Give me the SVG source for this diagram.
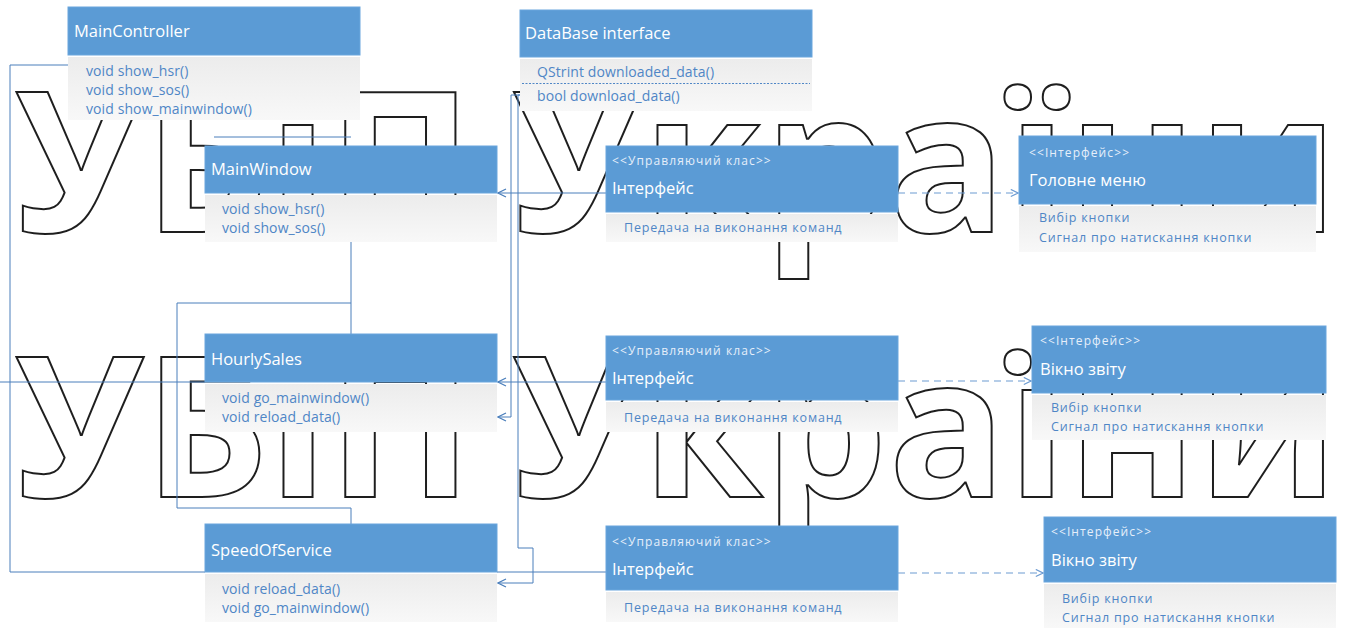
<svg xmlns="http://www.w3.org/2000/svg" width="1346" height="628" viewBox="0 0 1346 628">
<defs>
<style>
.wm{font-family:"Open Sans","DejaVu Sans",sans-serif;font-weight:700;font-size:195px;fill:none;stroke:#1e1e1e;stroke-width:2}
.ls{letter-spacing:1px}
.hdr{fill:#5b9bd5;stroke:#6aa6dd;stroke-width:1}
.body{fill:url(#bg)}
.t{font-family:"Open Sans","Noto Sans",sans-serif;fill:#ffffff}
.ttl{font-size:16.5px}
.st{font-size:12px;letter-spacing:1.1px;fill:#e6effa}
.m{font-family:"Open Sans","Noto Sans",sans-serif;font-size:14px;letter-spacing:0.1px;fill:#4f86c6}
.ms{font-size:12.5px;letter-spacing:0.8px}
.c{fill:none;stroke:#4a7ebb;stroke-width:1}
.d{fill:none;stroke:#6c9bd2;stroke-width:1.2;stroke-dasharray:7 5}
</style>
<linearGradient id="bg" x1="0" y1="0" x2="0" y2="1">
<stop offset="0" stop-color="#ececec"/>
<stop offset="1" stop-color="#f8f8f8"/>
</linearGradient>
<marker id="ao" viewBox="0 0 10 10" refX="9" refY="5" markerWidth="9" markerHeight="9" orient="auto" markerUnits="userSpaceOnUse">
<path d="M1,1 L9,5 L1,9" fill="none" stroke="#6c9bd2" stroke-width="1.3"/>
</marker>
<marker id="as" viewBox="0 0 10 10" refX="9" refY="5" markerWidth="10" markerHeight="10" orient="auto" markerUnits="userSpaceOnUse">
<path d="M1,1 L9,5 L1,9" fill="none" stroke="#4a7ebb" stroke-width="1.2"/>
</marker>
</defs>
<rect width="1346" height="628" fill="#ffffff"/>

<g id="watermark">
<text class="wm" x="473" y="232" text-anchor="end">НУБіП</text>
<text class="wm ls" x="512" y="232">України</text>
<text class="wm" x="473" y="497" text-anchor="end">НУБіП</text>
<text class="wm ls" x="512" y="497">України</text>
</g>

<g id="connectors">
<path class="c" d="M68,65 H10 V572 H205"/>
<path class="c" d="M0,382 H205"/>
<path class="c" d="M214,137 H351"/>
<path class="c" d="M351,242 V334"/>
<path class="c" d="M351,303 H177 V508 H351 V524"/>
<path class="c" d="M523,95 H511 V417 H498" marker-end="url(#as)"/>
<path class="c" d="M523,95 H518 V548 H533 V583 H498" marker-end="url(#as)"/>
<path class="c" d="M606,193 H498" marker-end="url(#as)"/>
<path class="c" d="M606,382 H498" marker-end="url(#as)"/>
<path class="c" d="M606,572 H497"/>
<path class="d" d="M898,193 H1018" marker-end="url(#ao)"/>
<path class="d" d="M898,381 H1031" marker-end="url(#ao)"/>
<path class="d" d="M898,573 H1043" marker-end="url(#ao)"/>
</g>

<g id="MainController">
<rect class="body" x="68" y="57" width="292" height="63"/>
<rect class="hdr" x="68" y="7" width="292" height="48"/>
<text class="t ttl" x="74" y="37">MainController</text>
<text class="m" x="86" y="76">void show_hsr()</text>
<text class="m" x="86" y="95">void show_sos()</text>
<text class="m" x="86" y="114">void show_mainwindow()</text>
</g>

<g id="DataBaseInterface">
<rect class="body" x="520" y="59" width="292" height="52"/>
<rect class="hdr" x="520" y="10" width="292" height="47"/>
<text class="t ttl" x="525" y="39">DataBase interface</text>
<text class="m" x="537" y="77">QStrint downloaded_data()</text>
<line x1="522" y1="83.5" x2="810" y2="83.5" stroke="#4f86c6" stroke-width="1" stroke-dasharray="2 1.5"/>
<text class="m" x="537" y="101">bool download_data()</text>
</g>

<g id="MainWindow">
<rect class="body" x="205" y="195" width="292" height="47"/>
<rect class="hdr" x="205" y="146" width="292" height="47"/>
<text class="t ttl" x="211" y="175">MainWindow</text>
<text class="m" x="222" y="214">void show_hsr()</text>
<text class="m" x="222" y="233">void show_sos()</text>
</g>

<g id="HourlySales">
<rect class="body" x="205" y="384" width="292" height="48"/>
<rect class="hdr" x="205" y="334" width="292" height="48"/>
<text class="t ttl" x="211" y="365">HourlySales</text>
<text class="m" x="222" y="403">void go_mainwindow()</text>
<text class="m" x="222" y="422">void reload_data()</text>
</g>

<g id="SpeedOfService">
<rect class="body" x="205" y="574" width="292" height="48"/>
<rect class="hdr" x="205" y="524" width="292" height="48"/>
<text class="t ttl" x="211" y="556">SpeedOfService</text>
<text class="m" x="222" y="594">void reload_data()</text>
<text class="m" x="222" y="613">void go_mainwindow()</text>
</g>

<g id="Interface1">
<rect class="body" x="606" y="214" width="292" height="28"/>
<rect class="hdr" x="606" y="146" width="292" height="66"/>
<text class="t st" x="612" y="165">&lt;&lt;Управляючий клас&gt;&gt;</text>
<text class="t ttl" x="612" y="194">Інтерфейс</text>
<text class="m ms" x="624" y="232">Передача на виконання команд</text>
</g>

<g id="Interface2">
<rect class="body" x="606" y="402" width="292" height="30"/>
<rect class="hdr" x="606" y="336" width="292" height="64"/>
<text class="t st" x="612" y="355">&lt;&lt;Управляючий клас&gt;&gt;</text>
<text class="t ttl" x="612" y="384">Інтерфейс</text>
<text class="m ms" x="624" y="422">Передача на виконання команд</text>
</g>

<g id="Interface3">
<rect class="body" x="606" y="592" width="292" height="30"/>
<rect class="hdr" x="606" y="526" width="292" height="64"/>
<text class="t st" x="612" y="546">&lt;&lt;Управляючий клас&gt;&gt;</text>
<text class="t ttl" x="612" y="575">Інтерфейс</text>
<text class="m ms" x="624" y="612">Передача на виконання команд</text>
</g>

<g id="MainMenu">
<rect class="body" x="1019" y="206" width="297" height="46"/>
<rect class="hdr" x="1019" y="136" width="297" height="68"/>
<text class="t st" x="1029" y="157">&lt;&lt;Інтерфейс&gt;&gt;</text>
<text class="t ttl" x="1029" y="186">Головне меню</text>
<text class="m ms" x="1039" y="222">Вибір кнопки</text>
<text class="m ms" x="1039" y="242">Сигнал про натискання кнопки</text>
</g>

<g id="ReportWindow1">
<rect class="body" x="1032" y="395" width="294" height="45"/>
<rect class="hdr" x="1032" y="326" width="294" height="67"/>
<text class="t st" x="1040" y="345">&lt;&lt;Інтерфейс&gt;&gt;</text>
<text class="t ttl" x="1040" y="375">Вікно звіту</text>
<text class="m ms" x="1051" y="412">Вибір кнопки</text>
<text class="m ms" x="1051" y="431">Сигнал про натискання кнопки</text>
</g>

<g id="ReportWindow2">
<rect class="body" x="1044" y="584" width="292" height="44"/>
<rect class="hdr" x="1044" y="517" width="292" height="65"/>
<text class="t st" x="1051" y="536">&lt;&lt;Інтерфейс&gt;&gt;</text>
<text class="t ttl" x="1051" y="566">Вікно звіту</text>
<text class="m ms" x="1062" y="603">Вибір кнопки</text>
<text class="m ms" x="1062" y="622">Сигнал про натискання кнопки</text>
</g>
</svg>
